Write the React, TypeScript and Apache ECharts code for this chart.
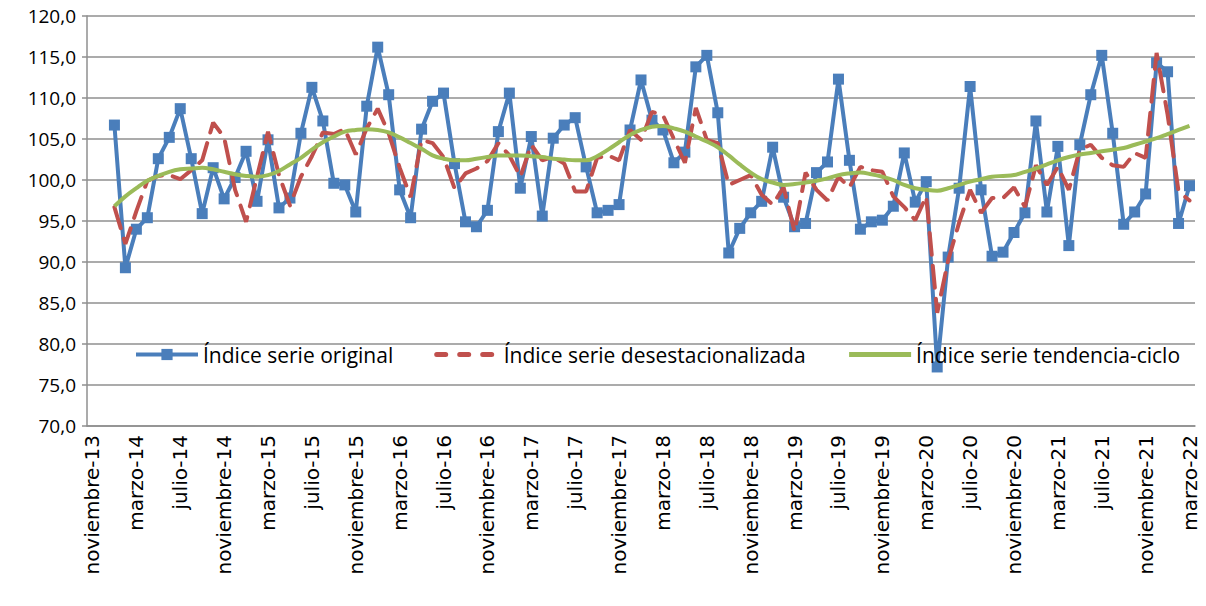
import React, { useEffect, useRef } from "react";
import * as echarts from "echarts";

// Month names (Spanish) and the category range: noviembre-13 … marzo-22
const MONTHS = ["enero", "febrero", "marzo", "abril", "mayo", "junio", "julio", "agosto", "septiembre", "octubre", "noviembre", "diciembre"];
const START_YEAR = 2013;
const START_MONTH = 10; // noviembre
const N_CATEGORIES = 101;

// Series start in enero-14 (the first two categories are empty)
const EMPTY_LEADING = [null, null];

const ORIGINAL = [
  106.7, 89.3, 94.0, 95.4, 102.6, 105.2, 108.7, 102.6, 95.9, 101.5, 97.7, 100.3,
  103.5, 97.4, 104.9, 96.6, 97.8, 105.7, 111.3, 107.2, 99.6, 99.4, 96.1, 109.0,
  116.2, 110.4, 98.8, 95.4, 106.2, 109.6, 110.6, 102.0, 94.9, 94.3, 96.3, 105.9,
  110.6, 99.0, 105.3, 95.6, 105.1, 106.7, 107.6, 101.6, 96.0, 96.3, 97.0, 106.1,
  112.2, 107.3, 106.1, 102.1, 103.4, 113.8, 115.2, 108.2, 91.1, 94.1, 96.0, 97.4,
  104.0, 97.9, 94.3, 94.7, 100.9, 102.2, 112.3, 102.4, 94.0, 94.9, 95.1, 96.8,
  103.3, 97.3, 99.8, 77.2, 90.6, 99.0, 111.4, 98.8, 90.7, 91.2, 93.6, 96.0,
  107.2, 96.1, 104.1, 92.0, 104.3, 110.4, 115.2, 105.7, 94.6, 96.1, 98.3, 114.3,
  113.2, 94.7, 99.3,
];

const DESESTACIONALIZADA = [
  96.7, 92.2, 96.2, 99.9, 100.5, 100.6, 100.1, 101.2, 102.4, 107.0, 105.2, 98.8,
  94.9, 100.4, 105.9, 100.6, 96.9, 100.4, 102.9, 105.8, 105.6, 106.2, 103.1, 106.3,
  108.7, 105.7, 101.5, 97.9, 104.9, 104.5, 102.8, 99.0, 100.8, 101.4, 102.3, 104.5,
  103.0, 100.4, 104.3, 102.4, 102.8, 102.0, 98.6, 98.6, 102.7, 103.0, 102.4, 106.1,
  104.9, 108.3, 107.9, 105.0, 102.1, 108.8, 104.9, 104.5, 99.4, 100.0, 100.6, 98.2,
  97.0, 99.1, 93.7, 100.9, 98.8, 97.5, 100.4, 99.1, 101.6, 101.2, 101.0, 98.0,
  96.7, 95.1, 98.0, 83.8, 90.2, 94.8, 98.8, 96.0, 97.8, 97.8, 99.1, 96.7,
  101.8, 99.4, 101.6, 98.8, 103.7, 104.3, 102.7, 101.8, 101.6, 103.3, 102.7, 115.5,
  108.0, 98.6, 97.5,
];

const TENDENCIA = [
  96.8, 98.0, 99.0, 99.9, 100.5, 101.0, 101.3, 101.4, 101.5, 101.3, 101.0, 100.7,
  100.5, 100.4, 100.6, 101.1, 101.9, 102.7, 103.7, 104.6, 105.3, 105.9, 106.1, 106.2,
  106.1, 105.8, 105.2, 104.5, 103.8, 103.0, 102.6, 102.4, 102.4, 102.6, 102.8, 103.0,
  103.0, 103.0, 102.9, 102.8, 102.6, 102.5, 102.4, 102.4, 102.9, 103.7, 104.6, 105.5,
  106.1, 106.5, 106.6, 106.3, 105.9, 105.3, 104.7, 104.0, 103.0, 101.9, 100.9, 100.1,
  99.7, 99.4, 99.5, 99.7, 99.9, 100.2, 100.6, 100.8, 100.9, 100.7, 100.4, 100.0,
  99.4, 99.0, 98.8, 98.7, 99.0, 99.4, 99.8, 100.1, 100.4, 100.5, 100.6, 101.0,
  101.4, 101.9, 102.4, 102.8, 103.1, 103.3, 103.5, 103.7, 103.9, 104.3, 104.7, 105.1,
  105.6, 106.1, 106.6,
];

const Y_MIN = 70;
const Y_MAX = 120;
const Y_STEP = 5;

const SERIES_NAMES = ["Índice serie original", "Índice serie desestacionalizada", "Índice serie tendencia-ciclo"];

function buildCategories(): string[] {
  const out: string[] = [];
  for (let k = 0; k < N_CATEGORIES; k++) {
    const m = (START_MONTH + k) % 12;
    const y = START_YEAR + Math.floor((START_MONTH + k) / 12);
    out.push(`${MONTHS[m]}-${String(y % 100).padStart(2, "0")}`);
  }
  return out;
}

const FONT = "'Open Sans', sans-serif";
const XFONT = "'DejaVu Sans', sans-serif";
const GRID_COLOR = "#8f8f8f";
const BLUE = "#4a7ebb";
const RED = "#c0504d";
const GREEN = "#9bbb59";

export default function App() {
  const ref = useRef<HTMLDivElement>(null);
  useEffect(() => {
    document.body.style.margin = "0";
    if (!ref.current) return;
    const chart = echarts.init(ref.current, undefined, { renderer: "svg" });
    const categories = buildCategories();
    chart.setOption({
      animation: false,
      backgroundColor: "#ffffff",
      grid: { left: 87, right: 11, top: 16, bottom: 180 },
      legend: {
        left: 134,
        top: 344,
        padding: 0,
        itemWidth: 62,
        itemHeight: 14,
        itemGap: 41,
        textStyle: { fontFamily: FONT, fontSize: 21, color: "#000" },
        data: [
          { name: SERIES_NAMES[0], lineStyle: { width: 4 } },
          { name: SERIES_NAMES[1], itemStyle: { opacity: 0 }, lineStyle: { width: 5, type: [9, 14], cap: "round" } },
          { name: SERIES_NAMES[2], itemStyle: { opacity: 0 }, lineStyle: { width: 5 } },
        ],
      },
      xAxis: {
        type: "category",
        data: categories,
        boundaryGap: true,
        axisLine: { lineStyle: { color: GRID_COLOR, width: 1.5 } },
        axisTick: { interval: 3, length: 6, lineStyle: { color: GRID_COLOR, width: 1.5 } },
        axisLabel: {
          interval: 3,
          rotate: 90,
          margin: 9,
          fontFamily: XFONT,
          fontSize: 20,
          color: "#000",
        },
        splitLine: { show: false },
      },
      yAxis: {
        type: "value",
        min: Y_MIN,
        max: Y_MAX,
        interval: Y_STEP,
        axisLine: { show: true, lineStyle: { color: GRID_COLOR, width: 1.5 } },
        axisTick: { show: true, length: 5, lineStyle: { color: GRID_COLOR, width: 1.5 } },
        axisLabel: {
          margin: 11,
          fontFamily: FONT,
          fontSize: 19,
          color: "#000",
          formatter: (v: number) => v.toFixed(1).replace(".", ","),
        },
        splitLine: { lineStyle: { color: GRID_COLOR, width: 1.5 } },
      },
      series: [
        {
          name: SERIES_NAMES[0],
          type: "line",
          data: [...EMPTY_LEADING, ...ORIGINAL],
          symbol: "rect",
          symbolSize: 11,
          showSymbol: true,
          showAllSymbol: true,
          color: BLUE,
          lineStyle: { color: BLUE, width: 4 },
          itemStyle: { color: BLUE },
          z: 2,
        },
        {
          name: SERIES_NAMES[1],
          type: "line",
          data: [...EMPTY_LEADING, ...DESESTACIONALIZADA],
          symbol: "none",
          color: RED,
          lineStyle: { color: RED, width: 4, type: [22, 11], cap: "round" },
          z: 3,
        },
        {
          name: SERIES_NAMES[2],
          type: "line",
          data: [...EMPTY_LEADING, ...TENDENCIA],
          symbol: "none",
          smooth: 0.4,
          color: GREEN,
          lineStyle: { color: GREEN, width: 4 },
          z: 4,
        },
      ],
    });
    return () => chart.dispose();
  }, []);
  return <div ref={ref} style={{ width: 1206, height: 606 }} />;
}
